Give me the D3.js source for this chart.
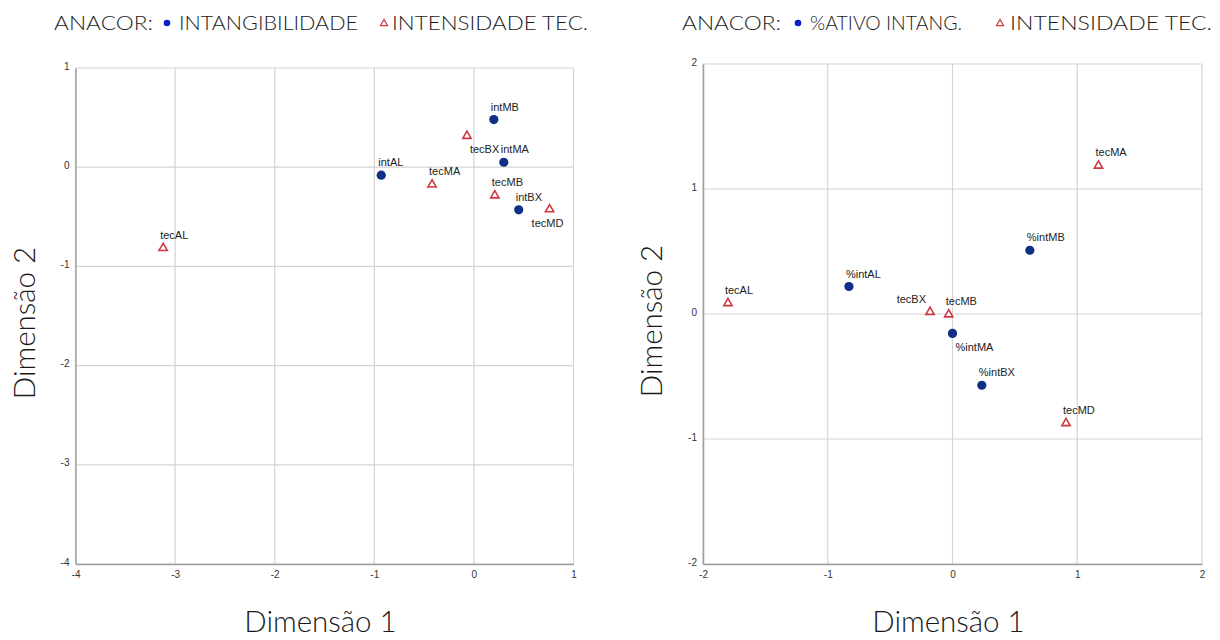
<!DOCTYPE html>
<html>
<head>
<meta charset="utf-8">
<script src="https://cdn.jsdelivr.net/npm/d3@7"></script>
<style>
  body { margin: 0; background: #fff; }
  svg { display: block; }
  .tick text { font-family: "Liberation Sans", Arial, sans-serif; font-size: 10px; fill: #333; }
  .pt-label { font-family: "Liberation Sans", Arial, sans-serif; font-size: 11px; fill: #222; }
  .ttl { font-family: Lato, "Noto Sans", sans-serif; font-weight: 300; fill: #1a1a1a; }
</style>
</head>
<body>
<svg width="1220" height="640"></svg>
<script>
// left chart: intangibilidade x intensidade tec.
const leftNames = ["intMB", "intMA", "intAL", "intBX", "tecBX", "tecMA", "tecMB", "tecMD", "tecAL"];
const leftType  = ["int", "int", "int", "int", "tec", "tec", "tec", "tec", "tec"];
const leftX     = [0.20, 0.30, -0.93, 0.45, -0.07, -0.42, 0.21, 0.76, -3.12];
const leftY     = [0.48, 0.05, -0.08, -0.43, 0.32, -0.17, -0.28, -0.42, -0.81];
const leftPos   = ["up", "up", "up", "up", "downR", "up", "up", "downL", "up"];
const leftTicks = [-4, -3, -2, -1, 0, 1];

// right chart: %ativo intang. x intensidade tec.
const rightNames = ["%intAL", "%intMB", "%intMA", "%intBX", "tecAL", "tecBX", "tecMB", "tecMA", "tecMD"];
const rightType  = ["int", "int", "int", "int", "tec", "tec", "tec", "tec", "tec"];
const rightX     = [-0.83, 0.62, 0.0, 0.235, -1.80, -0.18, -0.03, 1.17, 0.91];
const rightY     = [0.22, 0.51, -0.155, -0.57, 0.09, 0.02, 0.0, 1.19, -0.87];
const rightPos   = ["up", "up", "downR", "up", "up", "upL", "up", "up", "up"];
const rightTicks = [-2, -1, 0, 1, 2];

const RED = "#d0383f";
const svg = d3.select("svg");

function drawPanel(o) {
  const x = d3.scaleLinear().domain(o.domain).range([o.x0, o.x1]);
  const y = d3.scaleLinear().domain(o.domain).range([o.y1, o.y0]);
  const g = svg.append("g");

  // grid
  g.selectAll(".gx").data(o.ticks).enter().append("line")
    .attr("x1", d => x(d)).attr("x2", d => x(d))
    .attr("y1", o.y0).attr("y2", o.y1)
    .attr("stroke", "#d4d4d4").attr("stroke-width", 1.2);
  g.selectAll(".gy").data(o.ticks).enter().append("line")
    .attr("y1", d => y(d)).attr("y2", d => y(d))
    .attr("x1", o.x0).attr("x2", o.x1)
    .attr("stroke", "#d4d4d4").attr("stroke-width", 1.2);

  const fmt = d => String(d);
  const xAxis = d3.axisBottom(x).tickValues(o.ticks).tickSize(0).tickPadding(7).tickFormat(fmt);
  const yAxis = d3.axisLeft(y).tickValues(o.ticks).tickSize(0).tickPadding(6).tickFormat(fmt);
  const gx = g.append("g").attr("transform", `translate(0,${o.y1})`).call(xAxis);
  const gy = g.append("g").attr("transform", `translate(${o.x0},0)`).call(yAxis);
  gx.select(".domain").attr("stroke", "#a0a0a0").attr("stroke-width", 1.5);
  gy.select(".domain").attr("stroke", "#a0a0a0").attr("stroke-width", 1.5);
  gy.selectAll(".tick text").attr("dy", "0.1em");

  const pts = o.names.map((n, i) => ({ n, t: o.type[i], vx: o.vx[i], vy: o.vy[i], p: o.pos[i] }));

  // markers
  g.selectAll(".dot").data(pts.filter(d => d.t === "int")).enter().append("circle")
    .attr("cx", d => x(d.vx)).attr("cy", d => y(d.vy)).attr("r", 4.6)
    .attr("fill", "#102f86");
  const tri = d3.symbol().type(d3.symbolTriangle).size(30);
  g.selectAll(".tri").data(pts.filter(d => d.t === "tec")).enter().append("path")
    .attr("d", tri)
    .attr("transform", d => `translate(${x(d.vx)},${y(d.vy) + 0.5})`)
    .attr("fill", "#fff").attr("stroke", RED).attr("stroke-width", 1.6);

  // labels
  g.selectAll(".pt-label").data(pts).enter().append("text")
    .attr("class", "pt-label")
    .attr("x", d => x(d.vx) + (d.p === "downR" ? 3 : d.p === "downL" ? -18 : d.p === "upL" ? -4 : -3))
    .attr("y", d => y(d.vy) + (d.p.startsWith("down") ? 18 : -9))
    .attr("text-anchor", d => d.p === "upL" ? "end" : "start")
    .text(d => d.n);

  // axis titles
  svg.append("text").attr("class", "ttl").attr("font-size", 29.5)
    .attr("text-anchor", "middle")
    .attr("x", (o.x0 + o.x1) / 2 - 4).attr("y", 632).text("Dimensão 1");
  svg.append("text").attr("class", "ttl").attr("font-size", 29.5)
    .attr("text-anchor", "middle")
    .attr("transform", `translate(${o.x0 - 41},${(o.y0 + o.y1) / 2 + 7}) rotate(-90)`)
    .text("Dimensão 2");

  // header: text pieces fitted to their spans, markers drawn as shapes
  const h = o.head;
  const piece = (txt, a, b) => svg.append("text").attr("class", "ttl")
    .attr("font-size", 19).attr("x", a).attr("y", 30)
    .attr("textLength", b - a).attr("lengthAdjust", "spacingAndGlyphs").text(txt);
  piece("ANACOR:", h[0], h[1]);
  svg.append("circle").attr("cx", h[2]).attr("cy", 23).attr("r", 3.3).attr("fill", "#0a1ccc");
  piece(o.intLabel, h[3], h[4]);
  svg.append("path").attr("d", d3.symbol().type(d3.symbolTriangle).size(22))
    .attr("transform", `translate(${h[5]},23.5)`)
    .attr("fill", "#fff").attr("stroke", RED).attr("stroke-width", 1.2);
  piece("INTENSIDADE TEC.", h[6], h[7]);
}

drawPanel({ names: leftNames, type: leftType, vx: leftX, vy: leftY, pos: leftPos,
  ticks: leftTicks, domain: [-4, 1], x0: 75.5, x1: 573.5, y0: 68, y1: 564,
  head: [54, 153, 167, 179, 358, 384, 392, 588], intLabel: "INTANGIBILIDADE" });
drawPanel({ names: rightNames, type: rightType, vx: rightX, vy: rightY, pos: rightPos,
  ticks: rightTicks, domain: [-2, 2], x0: 703, x1: 1202, y0: 64, y1: 564,
  head: [682, 781, 798, 810, 962, 1000, 1010, 1212], intLabel: "%ATIVO INTANG." });
</script>
</body>
</html>
